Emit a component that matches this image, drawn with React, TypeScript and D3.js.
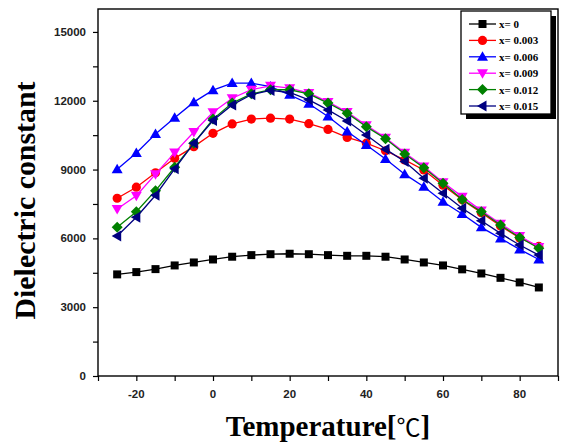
import { useEffect, useRef } from "react";
import * as d3 from "d3";

// Temperature sweep (°C) shared by every composition
const temps = [-25, -20, -15, -10, -5, 0, 5, 10, 15, 20, 25, 30, 35, 40, 45, 50, 55, 60, 65, 70, 75, 80, 85];

const eps000 = [4430, 4530, 4660, 4820, 4950, 5080, 5200, 5270, 5310, 5330, 5310, 5270, 5240, 5240, 5200, 5080, 4950, 4820, 4650, 4470, 4280, 4080, 3860];
const eps003 = [7750, 8230, 8860, 9490, 10000, 10580, 10990, 11200, 11240, 11200, 11000, 10750, 10400, 10150, 9820, 9420, 8980, 8320, 7680, 7120, 6540, 6020, 5650];
const eps006 = [9010, 9720, 10550, 11260, 11940, 12460, 12770, 12770, 12620, 12260, 11870, 11310, 10660, 10070, 9460, 8800, 8250, 7600, 7060, 6480, 6000, 5520, 5080];
const eps009 = [7280, 7860, 8800, 9740, 10640, 11500, 12110, 12480, 12650, 12550, 12340, 11950, 11510, 10930, 10390, 9730, 9130, 8450, 7820, 7210, 6640, 6100, 5620];
const eps012 = [6480, 7160, 8080, 9100, 10150, 11200, 11900, 12300, 12480, 12480, 12300, 11900, 11460, 10870, 10340, 9680, 9080, 8400, 7700, 7160, 6580, 6040, 5570];
const eps015 = [6100, 6920, 7880, 9030, 10150, 11140, 11820, 12260, 12450, 12360, 12040, 11600, 11120, 10510, 9890, 9350, 8620, 7970, 7310, 6770, 6220, 5710, 5270];

const seriesNames = ["x= 0", "x= 0.003", "x= 0.006", "x= 0.009", "x= 0.012", "x= 0.015"];
const seriesColors = ["#000000", "#ff0000", "#0000ff", "#ff00ff", "#008000", "#000080"];
const seriesValues = [eps000, eps003, eps006, eps009, eps012, eps015];

const xTicks = [-20, 0, 20, 40, 60, 80];
const yTicks = [0, 3000, 6000, 9000, 12000, 15000];

const W = 563;
const H = 444;
const M = { left: 98, right: 5, top: 9, bottom: 68 };

type Shape = "square" | "circle" | "up" | "down" | "diamond" | "left";
const shapes: Shape[] = ["square", "circle", "up", "down", "diamond", "left"];

function markerPath(shape: Shape, cx: number, cy: number): string {
  const s = 4.6;
  switch (shape) {
    case "square":
      return `M${cx - 4},${cy - 4}h8v8h-8Z`;
    case "circle":
      return `M${cx - s},${cy}a${s},${s} 0 1,0 ${2 * s},0a${s},${s} 0 1,0 ${-2 * s},0Z`;
    case "up":
      return `M${cx},${cy - 5.5}L${cx + 5.5},${cy + 4}L${cx - 5.5},${cy + 4}Z`;
    case "down":
      return `M${cx},${cy + 5.5}L${cx + 5.5},${cy - 4}L${cx - 5.5},${cy - 4}Z`;
    case "diamond":
      return `M${cx},${cy - 5.5}L${cx + 5.5},${cy}L${cx},${cy + 5.5}L${cx - 5.5},${cy}Z`;
    case "left":
      return `M${cx - 5.5},${cy}L${cx + 4},${cy - 5.5}L${cx + 4},${cy + 5.5}Z`;
  }
}

export default function App() {
  const ref = useRef<SVGSVGElement>(null);

  useEffect(() => {
    const svg = d3.select(ref.current!);
    svg.selectAll("*").remove();

    const x = d3.scaleLinear().domain([-30, 90]).range([M.left, W - M.right]);
    const y = d3.scaleLinear().domain([0, 16000]).range([H - M.bottom, M.top]);

    const tickFont = "'Liberation Sans', Arial, sans-serif";
    const titleFont = "'Liberation Serif', 'Times New Roman', serif";

    // frame
    svg
      .append("rect")
      .attr("x", M.left)
      .attr("y", M.top)
      .attr("width", W - M.right - M.left)
      .attr("height", H - M.bottom - M.top)
      .attr("fill", "none")
      .attr("stroke", "#000")
      .attr("stroke-width", 1.4);

    // x axis: major ticks with labels, minor ticks between
    const xAxis = svg.append("g").attr("transform", `translate(0,${H - M.bottom})`);
    xAxis
      .call(d3.axisBottom(x).tickValues(d3.range(-30, 91, 10)).tickSize(5).tickFormat(() => ""))
      .call((g) => g.select(".domain").remove())
      .call((g) => g.selectAll("line").attr("stroke-width", 1.2));
    xAxis
      .selectAll("text.lbl")
      .data(xTicks)
      .join("text")
      .attr("class", "lbl")
      .attr("x", (d) => x(d))
      .attr("y", 22)
      .attr("text-anchor", "middle")
      .attr("font-family", tickFont)
      .attr("font-weight", "bold")
      .attr("font-size", 11.5)
      .attr("fill", "#222")
      .text((d) => String(d));

    // y axis
    const yAxis = svg.append("g").attr("transform", `translate(${M.left},0)`);
    yAxis
      .call(d3.axisLeft(y).tickValues(d3.range(0, 16001, 1500)).tickSize(5).tickFormat(() => ""))
      .call((g) => g.select(".domain").remove())
      .call((g) => g.selectAll("line").attr("stroke-width", 1.2));
    yAxis
      .selectAll("text.lbl")
      .data(yTicks)
      .join("text")
      .attr("class", "lbl")
      .attr("x", -12)
      .attr("y", (d) => y(d) + 4)
      .attr("text-anchor", "end")
      .attr("font-family", tickFont)
      .attr("font-weight", "bold")
      .attr("font-size", 11.5)
      .attr("fill", "#222")
      .text((d) => String(d));

    // axis titles
    svg
      .append("text")
      .attr("transform", `translate(35,${(M.top + H - M.bottom) / 2 + 8}) rotate(-90)`)
      .attr("text-anchor", "middle")
      .attr("font-family", titleFont)
      .attr("font-weight", "bold")
      .attr("font-size", 29)
      .attr("textLength", 238)
      .attr("lengthAdjust", "spacingAndGlyphs")
      .text("Dielectric constant");

    const xt = svg
      .append("text")
      .attr("x", 328)
      .attr("y", 436)
      .attr("text-anchor", "middle")
      .attr("font-family", titleFont)
      .attr("font-weight", "bold")
      .attr("font-size", 29);
    xt.append("tspan").text("Temperature[");
    xt.append("tspan")
      .attr("font-family", "'Noto Sans CJK KR', 'Noto Sans CJK SC', sans-serif")
      .attr("font-weight", "normal")
      .attr("font-size", 24)
      .text("℃");
    xt.append("tspan").text("]");

    // curves
    const line = d3
      .line<number>()
      .x((_, i) => x(temps[i]))
      .y((d) => y(d));

    seriesValues.forEach((vals, si) => {
      const g = svg.append("g");
      g.append("path")
        .attr("d", line(vals))
        .attr("fill", "none")
        .attr("stroke", seriesColors[si])
        .attr("stroke-width", 1.3);
      g.selectAll("path.m")
        .data(vals)
        .join("path")
        .attr("class", "m")
        .attr("d", (d, i) => markerPath(shapes[si], x(temps[i]), y(d)))
        .attr("fill", seriesColors[si]);
    });

    // legend with drop shadow
    const lg = svg.append("g");
    const lx = 461;
    const ly = 11;
    const lw = 90;
    const lh = 103;
    lg.append("rect").attr("x", lx + 5).attr("y", ly + 5).attr("width", lw).attr("height", lh).attr("fill", "#000");
    lg.append("rect")
      .attr("x", lx)
      .attr("y", ly)
      .attr("width", lw)
      .attr("height", lh)
      .attr("fill", "#fff")
      .attr("stroke", "#000")
      .attr("stroke-width", 1.3);
    seriesNames.forEach((name, si) => {
      const cy = ly + 13 + si * 16.4;
      lg.append("line")
        .attr("x1", lx + 8)
        .attr("x2", lx + 35)
        .attr("y1", cy)
        .attr("y2", cy)
        .attr("stroke", seriesColors[si])
        .attr("stroke-width", 1.3);
      lg.append("path").attr("d", markerPath(shapes[si], lx + 21.5, cy)).attr("fill", seriesColors[si]);
      lg.append("text")
        .attr("x", lx + 38)
        .attr("y", cy + 4)
        .attr("font-family", titleFont)
        .attr("font-weight", "bold")
        .attr("font-size", 11)
        .text(name);
    });
  }, []);

  return (
    <svg
      ref={ref}
      width={W}
      height={H}
      style={{ position: "absolute", left: 0, top: 0, background: "#fff" }}
    />
  );
}
